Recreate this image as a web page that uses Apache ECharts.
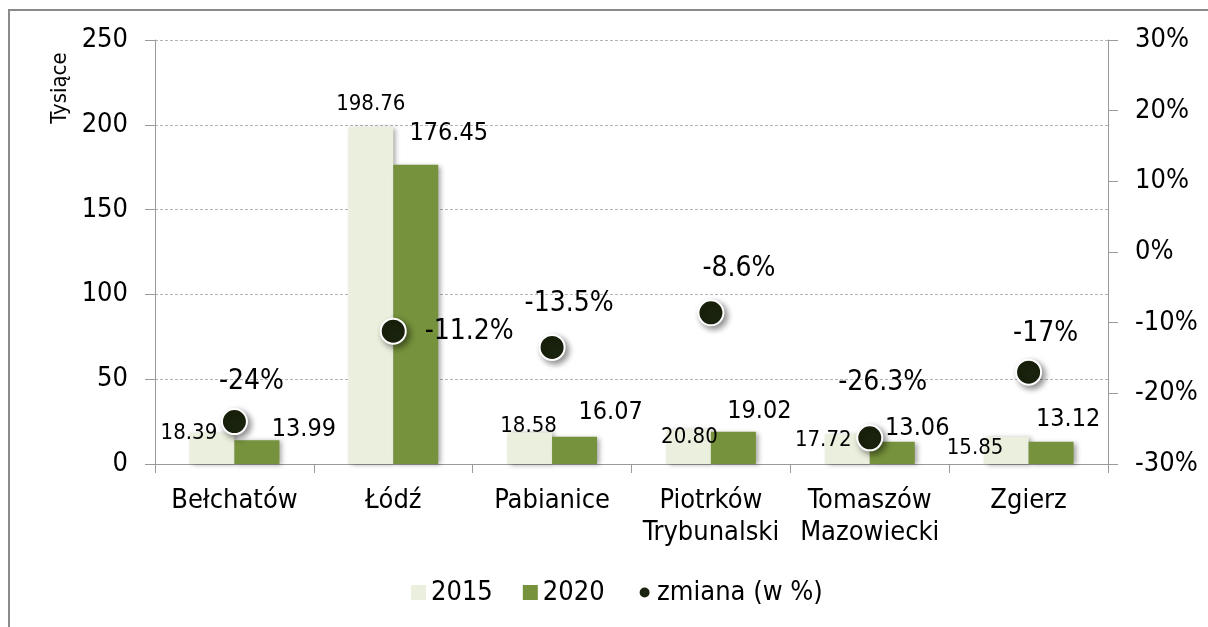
<!DOCTYPE html>
<html>
<head>
<meta charset="utf-8">
<title>Liczba ludności miast 2015–2020</title>
<script src="https://cdn.jsdelivr.net/npm/echarts@6/dist/echarts.min.js"></script>
<style>
  html, body { margin: 0; padding: 0; background: #fff; }
  #wrap { position: relative; width: 1208px; height: 627px; overflow: hidden; }
  #frame { position: absolute; left: 8px; top: 9px; width: 1300px; height: 700px;
           border-top: 2px solid #8a8a8a; border-left: 2px solid #8a8a8a; box-sizing: border-box; }
  #chart { position: absolute; left: 0; top: 0; width: 1208px; height: 627px; }
</style>
</head>
<body>
<div id="wrap">
  <div id="frame"></div>
  <div id="chart"></div>
</div>
<script>
// Cities and their population (thousands) in 2015 and 2020, plus the % change
const categories = ['Bełchatów', 'Łódź', 'Pabianice', 'Piotrków\nTrybunalski', 'Tomaszów\nMazowiecki', 'Zgierz'];
const values2015 = [18.39, 198.76, 18.58, 20.80, 17.72, 15.85];
const values2020 = [13.99, 176.45, 16.07, 19.02, 13.06, 13.12];
const changePct = [-24, -11.2, -13.5, -8.6, -26.3, -17];

// Axis tick values
const leftTicks = [0, 50, 100, 150, 200, 250];
const rightTicks = [-30, -20, -10, 0, 10, 20, 30];

// Hand-placed label nudges (px) so labels don't collide
const offsets2015 = [[-23, 0], [0, -23], [-1, -6], [1, 9], [-24, 6], [-31, 11]];
const offsets2020 = [[47, -11], [33, -31], [36, -24], [26, -20], [25, -13], [17, -22]];
const offsetsPct = [[17, -40], [76, 1], [17, -44], [28, -44], [13, -55], [17, -38]];

const FONT = "'DejaVu Sans Condensed', 'DejaVu Sans', sans-serif";
const C2015 = '#ebf0de';
const C2020 = '#76923c';
const CDOT = '#1a230d';
const AXIS = '#9a9a9a';

const chart = echarts.init(document.getElementById('chart'), null, { renderer: 'canvas' });

function barData(values, offsets, size) {
  return values.map((v, i) => ({
    value: v,
    label: { offset: offsets[i], fontSize: size }
  }));
}

const option = {
  animation: false,
  textStyle: { fontFamily: FONT, color: '#000' },
  grid: { left: 155, right: 100, top: 40, bottom: 163, containLabel: false },
  legend: {
    left: 411, top: 579, padding: 0,
    itemWidth: 15, itemHeight: 15, itemGap: 30,
    textStyle: { fontFamily: FONT, fontSize: 27, color: '#000' },
    itemStyle: { shadowBlur: 0, shadowOffsetX: 0, shadowOffsetY: 0, borderWidth: 0, opacity: 1 },
    data: [
      { name: '2015', icon: 'rect' },
      { name: '2020', icon: 'rect' },
      { name: 'zmiana (w %)', icon: 'circle',
        itemStyle: { color: CDOT, borderColor: '#fff', borderWidth: 5, shadowBlur: 0, opacity: 1 } }
    ]
  },
  xAxis: {
    type: 'category',
    data: categories,
    boundaryGap: true,
    axisLine: { lineStyle: { color: AXIS, width: 1 } },
    axisTick: { show: true, interval: 0, length: 9, lineStyle: { color: AXIS } },
    axisLabel: { interval: 0, margin: 21, fontFamily: FONT, fontSize: 27, color: '#000', lineHeight: 32 }
  },
  yAxis: [
    {
      type: 'value',
      min: leftTicks[0], max: leftTicks[leftTicks.length - 1],
      interval: leftTicks[1] - leftTicks[0],
      axisLine: { show: true, lineStyle: { color: AXIS } },
      axisTick: { show: true, length: 10, lineStyle: { color: AXIS } },
      axisLabel: { margin: 27, fontFamily: FONT, fontSize: 27, color: '#000' },
      splitLine: { show: true, lineStyle: { color: '#b4b4b4', type: [3, 2], width: 1 } }
    },
    {
      type: 'value',
      min: rightTicks[0], max: rightTicks[rightTicks.length - 1],
      interval: rightTicks[1] - rightTicks[0],
      position: 'right',
      axisLine: { show: true, lineStyle: { color: AXIS } },
      axisTick: { show: true, length: 10, lineStyle: { color: AXIS } },
      axisLabel: { margin: 27, fontFamily: FONT, fontSize: 27, color: '#000', formatter: '{value}%' },
      splitLine: { show: false }
    }
  ],
  graphic: [
    {
      type: 'text', x: 60, y: 88, rotation: Math.PI / 2,
      style: { text: 'Tysiące', font: "22px " + FONT, fill: '#000', align: 'center', verticalAlign: 'middle' }
    }
  ],
  series: [
    {
      name: '2015', type: 'bar', yAxisIndex: 0,
      barWidth: 45, barGap: '0%',
      itemStyle: { color: C2015, shadowColor: 'rgba(0,0,0,0.35)', shadowBlur: 5, shadowOffsetX: 3, shadowOffsetY: 1 },
      label: {
        show: true, position: 'top', distance: 0, align: 'center', verticalAlign: 'middle',
        color: '#000', fontFamily: FONT, formatter: p => p.value.toFixed(2)
      },
      data: barData(values2015, offsets2015, 22),
      z: 2
    },
    {
      name: '2020', type: 'bar', yAxisIndex: 0,
      barWidth: 45, barGap: '0%',
      itemStyle: { color: C2020, shadowColor: 'rgba(0,0,0,0.35)', shadowBlur: 5, shadowOffsetX: 3, shadowOffsetY: 1 },
      label: {
        show: true, position: 'top', distance: 0, align: 'center', verticalAlign: 'middle',
        color: '#000', fontFamily: FONT, formatter: p => p.value.toFixed(2)
      },
      data: barData(values2020, offsets2020, 25),
      z: 2
    },
    {
      name: 'zmiana (w %)', type: 'scatter', yAxisIndex: 1,
      symbol: 'circle', symbolSize: 25,
      itemStyle: { color: CDOT, opacity: 1, borderColor: '#fff', borderWidth: 2,
                   shadowColor: 'rgba(0,0,0,0.45)', shadowBlur: 6, shadowOffsetX: 3, shadowOffsetY: 3 },
      label: {
        show: true, position: 'inside', align: 'center', verticalAlign: 'middle', opacity: 1,
        color: '#000', fontFamily: FONT, fontSize: 28, formatter: p => p.value + '%'
      },
      data: changePct.map((v, i) => ({ value: v, label: { offset: offsetsPct[i] } })),
      z: 5
    }
  ]
};

chart.setOption(option);
</script>
</body>
</html>
